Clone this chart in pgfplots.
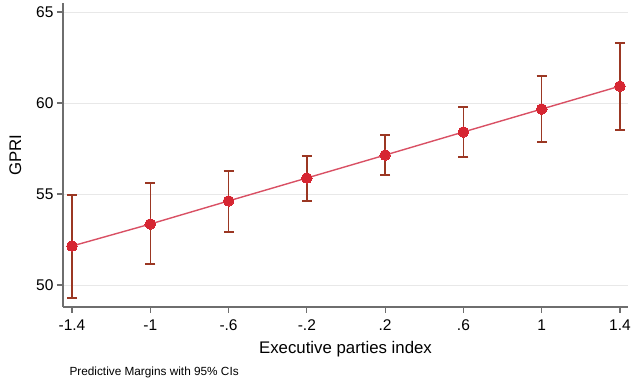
\documentclass[border=0pt]{standalone}
\usepackage{pgfplots}
\pgfplotsset{compat=1.18}
\usepackage{fontspec}
\setmainfont{Liberation Sans}
\definecolor{ptred}{RGB}{214,38,50}
\definecolor{lnred}{RGB}{217,80,100}
\definecolor{ebbrown}{RGB}{155,55,35}
\definecolor{axgray}{RGB}{110,110,110}
\definecolor{grd}{RGB}{232,232,232}
\begin{document}
\begin{tikzpicture}
\begin{axis}[
  name=ax,
  width=565pt, height=304pt, scale only axis,
  xmin=-1.446, xmax=1.441, ymin=48.79, ymax=65.5,
  axis lines*=left,
  axis line style={axgray, line width=1.4pt, -},
  xtick={-1.4,-1,-0.6,-0.2,0.2,0.6,1,1.4},
  xticklabels={-1.4,-1,-.6,-.2,.2,.6,1,1.4},
  ytick={50,55,60,65},
  ymajorgrids, grid style={grd, line width=0.9pt},
  tick style={axgray, line width=1.2pt},
  tick align=outside, major tick length=6pt,
  /pgf/number format/assume math mode=true,
  ticklabel style={font=\fontsize{15.5}{17}\selectfont, text=black},
  xticklabel style={yshift=-3pt},
  xlabel={Executive parties index},
  ylabel={GPRI},
  label style={font=\fontsize{16.8}{19}\selectfont},
  xlabel style={yshift=-4pt},
  ylabel style={yshift=8pt},
  clip=false,
]
\addplot[only marks, mark=none,
  error bars/.cd, y dir=both, y explicit,
  error bar style={ebbrown, line width=1.5pt},
  error mark options={ebbrown, line width=1.3pt, mark size=5pt, rotate=90}]
  table[x=x, y=y, y error plus=ep, y error minus=em] {
x y ep em
-1.4 52.14 2.81 2.85
-1.0 53.35 2.25 2.20
-0.6 54.62 1.64 1.71
-0.2 55.88 1.21 1.26
0.2 57.14 1.10 1.10
0.6 58.41 1.37 1.38
1.0 59.67 1.81 1.81
1.4 60.93 2.37 2.41
};
\addplot[lnred, line width=1.4pt, mark=*, mark size=5.3pt,
  mark options={fill=ptred, draw=ptred, line width=0pt}]
  table[x=x, y=y] {
x y
-1.4 52.14
-1.0 53.35
-0.6 54.62
-0.2 55.88
0.2 57.14
0.6 58.41
1.0 59.67
1.4 60.93
};
\end{axis}
\pgfresetboundingbox
\path[use as bounding box] ([xshift=-63pt,yshift=-75pt]ax.south west) rectangle ([xshift=3pt,yshift=3pt]ax.north east);
\node[anchor=base west, font=\fontsize{11.8}{14}\selectfont] at ([xshift=3pt,yshift=-69pt]ax.south west) {Predictive Margins with 95\% CIs};
\end{tikzpicture}
\end{document}
